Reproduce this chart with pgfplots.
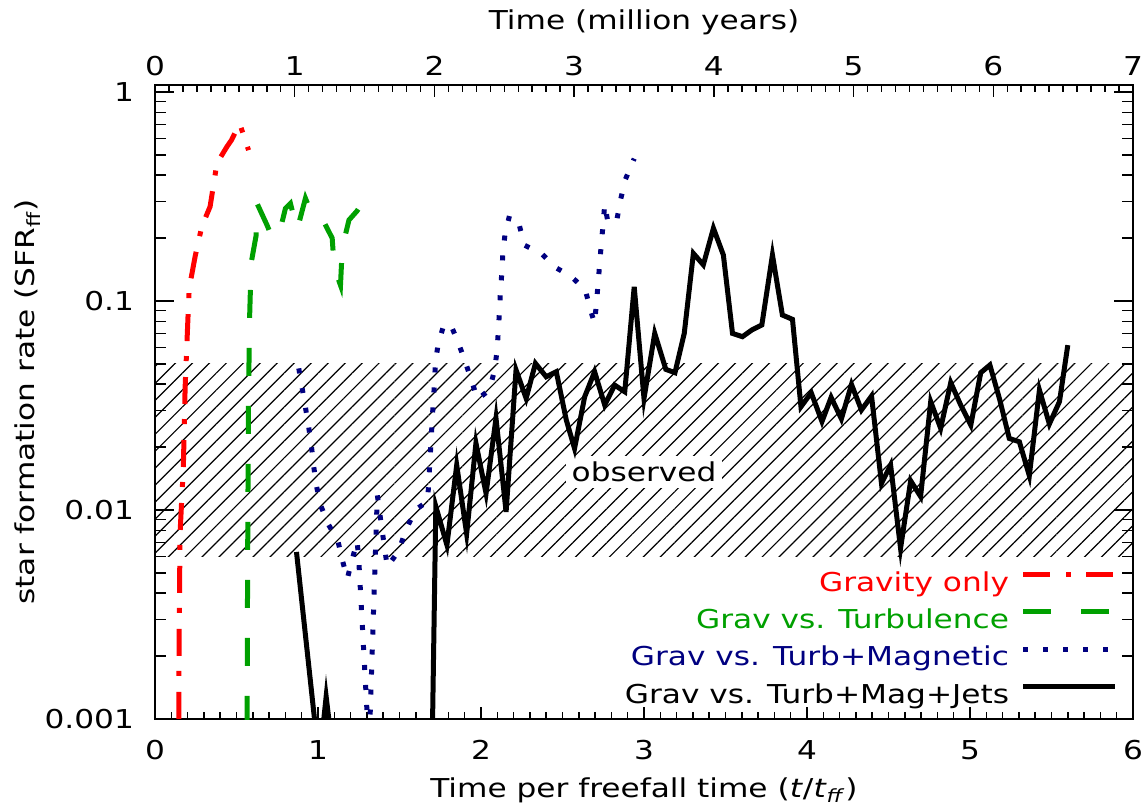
\documentclass[border=0pt]{standalone}
\usepackage{fontspec}
\setmainfont{DejaVu Sans}[FakeStretch=1.2]
\usepackage{pgfplots}
\pgfplotsset{compat=1.18}
\usetikzlibrary{patterns.meta}

\definecolor{idlred}{RGB}{255,0,0}
\definecolor{idlgreen}{RGB}{0,160,0}
\definecolor{idlblue}{RGB}{0,0,128}

\begin{document}
\fontsize{13}{15}\selectfont
\begin{tikzpicture}
% bottom / left axis: SFR per freefall time
\begin{axis}[
  at={(0,0)}, anchor=south west,
  scale only axis, width=489pt, height=317pt,
  xmin=0, xmax=6,
  ymode=log, ymin=0.001, ymax=1.08,
  xtick={0,1,2,3,4,5,6}, xticklabels={0,1,2,3,4,5,6},
  minor x tick num=9,
  ytick={0.001,0.01,0.1,1}, yticklabels={0.001,0.01,0.1,1},
  minor ytick={0.002,0.003,0.004,0.005,0.006,0.007,0.008,0.009,
               0.02,0.03,0.04,0.05,0.06,0.07,0.08,0.09,
               0.2,0.3,0.4,0.5,0.6,0.7,0.8,0.9},
  xtick pos=left, ytick pos=both, tick align=inside,
  major tick length=9.5pt, minor tick length=5.5pt,
  xtick style={/pgfplots/major tick length=6pt, /pgfplots/minor tick length=3.5pt},
  tick style={black, line width=0.75pt},
  axis line style={line width=1pt},
  xticklabel shift=6pt, yticklabel shift=6pt,
  xlabel={Time per freefall time (\textit{t}/\textit{t}\textsubscript{\textit{ff}})},
  ylabel={star formation rate (SFR\textsubscript{ff})},
  x label style={at={(axis description cs:0.5,0)}, anchor=center, yshift=-35.5pt},
  y label style={at={(axis description cs:-0.13,0.5)}, anchor=center},
  legend style={draw=none, fill=none, inner sep=0pt, outer sep=0pt,
    at={(1,0)}, anchor=south east, xshift=-7.5pt, yshift=6pt,
    row sep=6.2pt, column sep=6pt, nodes={inner sep=0pt}},
  legend cell align=right, legend plot pos=right,
  legend image code/.code={\draw[#1] (0pt,4pt) -- (46pt,4pt);},
]
% observed range
\addplot[draw=none, pattern={Lines[angle=45, distance=6pt, line width=0.6pt]}, forget plot]
  coordinates {(0,0.006) (6,0.006) (6,0.05) (0,0.05)};
\node[fill=white, inner sep=3pt] at (axis cs:3.0,0.0152) {observed};

\addplot[idlred, line width=2.5pt, dash pattern=on 13.5pt off 8pt on 2.5pt off 7.5pt]
  coordinates {(0.145,0.0005)(0.148,0.0026)(0.154,0.0078)(0.174,0.0161)(0.185,0.039)
    (0.205,0.094)(0.21,0.115)(0.246,0.163)(0.287,0.227)(0.338,0.283)(0.38,0.456)
    (0.441,0.547)(0.47,0.59)(0.519,0.708)(0.574,0.527)};
\addlegendentry{\strut\textcolor{idlred}{Gravity only}}

\addplot[idlgreen, line width=2.5pt, dash pattern=on 14pt off 15pt]
  coordinates {(0.564,0.0005)(0.568,0.005)(0.573,0.03)(0.58,0.081)(0.585,0.111)
    (0.59,0.152)(0.62,0.205)(0.626,0.293)(0.687,0.231)(0.72,0.2)(0.759,0.205)
    (0.8,0.277)(0.831,0.293)(0.872,0.219)(0.923,0.31)(0.974,0.248)(1.036,0.239)
    (1.087,0.2)(1.10,0.144)(1.138,0.119)(1.149,0.18)(1.19,0.244)(1.24,0.27)
    (1.282,0.304)(1.31,0.29)};
\addlegendentry{\strut\textcolor{idlgreen}{Grav vs. Turbulence}}

\addplot[idlblue, line width=2.5pt, dash pattern=on 2.5pt off 7.5pt]
  coordinates {(0.882,0.0476)(0.903,0.0382)(0.923,0.031)(0.943,0.0249)(0.96,0.0201)
    (0.974,0.0161)(0.991,0.013)(1.015,0.0106)(1.06,0.00863)(1.122,0.00713)
    (1.149,0.00577)(1.18,0.0047)(1.21,0.0058)(1.24,0.0071)(1.25,0.0058)
    (1.31,0.0008)(1.315,0.0008)(1.364,0.0118)(1.38,0.0095)(1.425,0.00535)
    (1.497,0.0064)(1.535,0.0079)(1.597,0.01)(1.672,0.011)(1.68,0.0137)
    (1.686,0.017)(1.694,0.0212)(1.70,0.0265)(1.707,0.0326)(1.715,0.0407)
    (1.72,0.0503)(1.737,0.0623)(1.772,0.0768)(1.815,0.0768)(1.862,0.0628)
    (1.903,0.0513)(1.943,0.0414)(1.979,0.0339)(2.051,0.0375)(2.082,0.0462)
    (2.098,0.0572)(2.106,0.0713)(2.113,0.0883)(2.119,0.110)(2.128,0.137)
    (2.134,0.169)(2.148,0.211)(2.175,0.256)(2.236,0.229)(2.267,0.185)
    (2.374,0.168)(2.455,0.145)(2.554,0.131)(2.640,0.113)(2.673,0.0899)
    (2.697,0.0782)(2.708,0.0975)(2.718,0.120)(2.728,0.150)(2.738,0.188)
    (2.749,0.232)(2.759,0.29)(2.78,0.235)(2.8,0.241)(2.835,0.248)
    (2.857,0.307)(2.886,0.382)(2.94,0.48)};
\addlegendentry{\strut\textcolor{idlblue}{Grav vs. Turb+Magnetic}}

\addplot[black, line width=2.5pt]
  coordinates {(0.868,0.0063)(1.0,0.0007)(1.015,0.0007)(1.05,0.00128)(1.09,0.0007)
    (1.70,0.0007)(1.723,0.0104)(1.791,0.0068)(1.851,0.0164)(1.912,0.0077)
    (1.969,0.0209)(2.031,0.012)(2.092,0.0275)(2.154,0.0098)(2.215,0.0468)
    (2.277,0.0342)(2.334,0.0503)(2.4,0.0434)(2.462,0.0459)(2.523,0.027)
    (2.574,0.0197)(2.636,0.0348)(2.697,0.0459)(2.759,0.0318)(2.82,0.0396)
    (2.882,0.0368)(2.94,0.117)(3.0,0.0342)(3.066,0.070)(3.134,0.0471)
    (3.19,0.0454)(3.247,0.070)(3.303,0.169)(3.364,0.149)(3.426,0.223)
    (3.487,0.166)(3.543,0.070)(3.604,0.0675)(3.662,0.0727)(3.723,0.0768)
    (3.788,0.166)(3.849,0.0857)(3.911,0.0817)(3.963,0.0312)(4.026,0.0364)
    (4.092,0.0265)(4.148,0.0346)(4.211,0.0273)(4.273,0.0399)(4.334,0.0301)
    (4.396,0.0351)(4.457,0.0134)(4.513,0.0164)(4.574,0.00656)(4.636,0.0138)
    (4.697,0.0116)(4.759,0.033)(4.82,0.0246)(4.882,0.0407)(4.943,0.0318)
    (5.005,0.0255)(5.066,0.0454)(5.122,0.0494)(5.183,0.0336)(5.241,0.022)
    (5.303,0.0212)(5.364,0.0146)(5.426,0.0375)(5.487,0.0258)(5.549,0.033)
    (5.6,0.0615)};
\addlegendentry{\strut Grav vs. Turb+Mag+Jets}
\end{axis}

% top axis: time in million years
\begin{axis}[
  at={(0,0)}, anchor=south west,
  scale only axis, width=489pt, height=317pt,
  xmin=0, xmax=7, ymin=0, ymax=1,
  axis x line*=top, axis y line=none,
  xtick={0,1,2,3,4,5,6,7}, xticklabels={0,1,2,3,4,5,6,7},
  minor x tick num=9, tick align=inside,
  major tick length=6pt, minor tick length=3.5pt,
  tick style={black, line width=0.75pt},
  axis line style={line width=1pt},
  xticklabel shift=0pt,
  xlabel={Time (million years)},
  x label style={at={(axis description cs:0.5,1)}, anchor=center, yshift=31.5pt},
]
\end{axis}
\pgfresetboundingbox
\path[use as bounding box] (-77.5pt,-45.5pt) rectangle (495.5pt,359.5pt);
\end{tikzpicture}
\end{document}
